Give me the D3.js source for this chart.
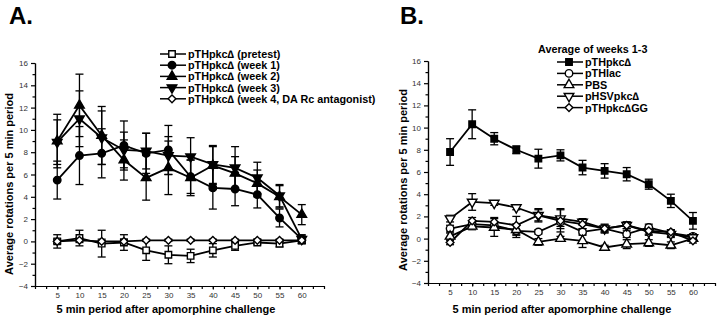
<!DOCTYPE html>
<html>
<head>
<meta charset="utf-8">
<script src="https://cdn.jsdelivr.net/npm/d3@7"></script>
<style>
body { margin: 0; background: #fff; }
svg { font-family: "Liberation Sans", Arial, Helvetica, sans-serif; }
.axis path, .axis line { stroke: #000; stroke-width: 1.2; }
.axis text { font-size: 8px; fill: #333; }
</style>
</head>
<body>
<div id="chart"></div>
<script>
// 5 min periods after apomorphine
var periods = [5, 10, 15, 20, 25, 30, 35, 40, 45, 50, 55, 60];
var yTickValues = [-4, -2, 0, 2, 4, 6, 8, 10, 12, 14, 16];

// panel A: pTHpkcΔ over weeks
var pretestMean = [0.0, 0.3, -0.2, -0.1, -0.8, -1.2, -1.3, -0.8, -0.4, -0.1, -0.2, 0.1];
var pretestErr  = [0.6, 0.7, 1.2, 0.7, 0.9, 0.8, 0.6, 0.6, 0.4, 0.2, 0.3, 0.3];
var week1Mean = [5.5, 7.7, 7.9, 8.6, 7.9, 8.2, 5.8, 4.8, 4.7, 4.2, 2.1, 0.2];
var week1Err  = [1.7, 2.6, 2.2, 2.2, 1.8, 2.2, 1.5, 1.9, 1.5, 1.2, 0.8, 0.3];
var week2Mean = [9.0, 12.2, 9.5, 7.3, 5.7, 6.6, 5.7, 6.8, 6.1, 5.2, 4.0, 2.4];
var week2Err  = [2.4, 2.8, 2.6, 1.8, 2.0, 2.4, 1.6, 1.7, 1.5, 1.2, 1.0, 0.9];
var week3Mean = [8.9, 11.0, 9.3, 8.2, 8.1, 7.7, 7.6, 6.9, 6.6, 5.7, 4.1, 0.2];
var week3Err  = [2.0, 2.5, 2.4, 1.6, 1.6, 1.7, 1.7, 1.7, 1.9, 1.4, 1.0, 0.4];
var week4Mean = [0.0, 0.1, 0.0, 0.0, 0.1, 0.1, 0.1, 0.1, 0.1, 0.1, 0.1, 0.1];
var week4Err  = [0.2, 0.2, 0.2, 0.2, 0.1, 0.1, 0.1, 0.1, 0.1, 0.1, 0.1, 0.1];

// panel B: average of weeks 1-3
var pkcMean = [7.8, 10.3, 9.0, 8.0, 7.2, 7.5, 6.4, 6.1, 5.8, 4.9, 3.4, 1.6];
var pkcErr  = [1.2, 1.3, 0.55, 0.35, 0.85, 0.5, 0.65, 0.65, 0.6, 0.45, 0.6, 0.75];
var lacMean = [0.9, 1.3, 1.2, 0.7, 0.6, 1.5, 0.6, 0.9, 0.4, 1.0, 0.5, 0.2];
var lacErr  = [0.3, 0.3, 0.3, 0.6, 0.2, 0.4, 0.3, 0.3, 0.3, 0.3, 0.3, 0.2];
var pbsMean = [0.2, 1.1, 1.0, 0.8, -0.3, 0.0, -0.2, -0.8, -0.5, -0.4, -0.6, 0.0];
var pbsErr  = [0.3, 0.3, 0.8, 0.5, 0.3, 0.2, 0.6, 0.2, 0.4, 0.3, 0.3, 0.2];
var hsvMean = [1.8, 3.3, 3.2, 2.8, 2.1, 1.8, 1.5, 0.9, 1.2, 0.6, 0.4, 0.1];
var hsvErr  = [0.3, 0.75, 0.2, 0.2, 0.6, 0.9, 0.3, 0.3, 0.3, 0.3, 0.3, 0.3];
var ggMean = [-0.35, 1.6, 1.5, 1.2, 2.1, 1.6, 1.3, 0.9, 1.2, 0.7, 0.6, -0.2];
var ggErr  = [0.2, 0.3, 0.4, 0.8, 0.5, 1.0, 0.4, 0.4, 0.3, 0.3, 0.2, 0.2];

var svg = d3.select("#chart").append("svg")
    .attr("width", 720)
    .attr("height", 320);

// marker shapes
var shapes = {
    square:   { type: d3.symbolSquare,   size: 42, rot: 0 },
    circle:   { type: d3.symbolCircle,   size: 44, rot: 0 },
    triUp:    { type: d3.symbolTriangle, size: 40, rot: 0 },
    triDown:  { type: d3.symbolTriangle, size: 40, rot: 180 },
    diamond:  { type: d3.symbolSquare,   size: 30, rot: 45 }
};

function marker(sel, shape, filled) {
    var s = shapes[shape];
    sel.attr("d", d3.symbol().type(s.type).size(s.size)())
        .attr("transform", function() {
            return d3.select(this).attr("transform") + " rotate(" + s.rot + ")";
        })
        .style("fill", filled ? "#000" : "#fff")
        .style("stroke", "#000")
        .style("stroke-width", 1.4);
}

function drawPanel(p) {
    var x = d3.scaleLinear().domain([0, 65]).range([p.left, p.right]);
    var y = d3.scaleLinear().domain([-4, 16]).range([p.bottom, p.top]);

    var g = svg.append("g");

    // y axis: labelled even ticks + minor odd ticks
    g.append("g")
        .attr("class", "axis")
        .attr("transform", "translate(" + p.left + ",0)")
        .call(d3.axisLeft(y).tickValues(yTickValues).tickSize(4).tickSizeOuter(0).tickPadding(3));
    g.append("g")
        .attr("class", "axis")
        .attr("transform", "translate(" + p.left + ",0)")
        .call(d3.axisLeft(y).tickValues(d3.range(-3, 16, 2)).tickSize(2.5).tickSizeOuter(0).tickFormat(""));

    // x axis
    g.append("g")
        .attr("class", "axis")
        .attr("transform", "translate(0," + p.bottom + ")")
        .call(d3.axisBottom(x).tickValues(periods).tickSize(3.5).tickSizeOuter(0).tickPadding(3));
    g.append("g")
        .attr("class", "axis")
        .attr("transform", "translate(0," + p.bottom + ")")
        .call(d3.axisBottom(x).tickValues(d3.range(0, 65.1, 2.5)).tickSize(3).tickSizeOuter(0).tickFormat(""));

    var line = d3.line()
        .x(function(d, i) { return x(periods[i]); })
        .y(function(d) { return y(d); });

    p.series.forEach(function(s) {
        var eb = g.append("g");
        s.mean.forEach(function(m, i) {
            var cx = x(periods[i]), hi = y(m + s.err[i]), lo = y(m - s.err[i]);
            eb.append("line").attr("x1", cx).attr("x2", cx).attr("y1", hi).attr("y2", lo);
            eb.append("line").attr("x1", cx - 4).attr("x2", cx + 4).attr("y1", hi).attr("y2", hi);
            eb.append("line").attr("x1", cx - 4).attr("x2", cx + 4).attr("y1", lo).attr("y2", lo);
        });
        eb.selectAll("line").style("stroke", "#000").style("stroke-width", 1.3);
    });

    p.series.forEach(function(s) {
        g.append("path")
            .datum(s.mean)
            .attr("d", line)
            .style("fill", "none")
            .style("stroke", "#000")
            .style("stroke-width", 1.8);
    });

    p.series.forEach(function(s) {
        g.selectAll(null)
            .data(s.mean)
            .enter().append("path")
            .attr("transform", function(d, i) { return "translate(" + x(periods[i]) + "," + y(d) + ")"; })
            .call(marker, s.shape, s.filled);
    });

    // legend
    p.series.forEach(function(s, i) {
        var ly = p.legY + i * p.legStep;
        g.append("line")
            .attr("x1", p.legX).attr("x2", p.legX + 26)
            .attr("y1", ly).attr("y2", ly)
            .style("stroke", "#000").style("stroke-width", 1.5);
        g.append("path")
            .attr("transform", "translate(" + (p.legX + 12) + "," + ly + ")")
            .call(marker, s.shape, s.filled);
        g.append("text")
            .attr("x", p.legX + 28)
            .attr("y", ly + 4)
            .style("font-size", "10.8px")
            .style("font-weight", "bold")
            .text(s.name);
    });

    g.append("text")
        .attr("x", p.titleX)
        .attr("y", 24)
        .style("font-size", "24px")
        .style("font-weight", "bold")
        .text(p.title);

    g.append("text")
        .attr("text-anchor", "middle")
        .attr("x", p.xLabelX)
        .attr("y", 313)
        .style("font-size", "11px")
        .style("font-weight", "bold")
        .text("5 min period after apomorphine challenge");

    g.append("text")
        .attr("text-anchor", "middle")
        .attr("transform", "translate(" + p.yLabelX + "," + p.yLabelY + ") rotate(-90)")
        .style("font-size", "11px")
        .style("font-weight", "bold")
        .text("Average rotations per 5 min period");
}

drawPanel({
    title: "A.", titleX: 9,
    left: 35, right: 324, top: 63, bottom: 286,
    xLabelX: 166, yLabelX: 13, yLabelY: 184,
    legX: 160, legY: 54, legStep: 11.2,
    series: [
        { name: "pTHpkc\u2206 (pretest)", mean: pretestMean, err: pretestErr, shape: "square", filled: false },
        { name: "pTHpkc\u2206 (week 1)", mean: week1Mean, err: week1Err, shape: "circle", filled: true },
        { name: "pTHpkc\u2206 (week 2)", mean: week2Mean, err: week2Err, shape: "triUp", filled: true },
        { name: "pTHpkc\u2206 (week 3)", mean: week3Mean, err: week3Err, shape: "triDown", filled: true },
        { name: "pTHpkc\u2206 (week 4, DA Rc antagonist)", mean: week4Mean, err: week4Err, shape: "diamond", filled: false }
    ]
});

drawPanel({
    title: "B.", titleX: 400,
    left: 428, right: 715, top: 61, bottom: 283,
    xLabelX: 562, yLabelX: 407, yLabelY: 180,
    legX: 557, legY: 62, legStep: 11.4,
    series: [
        { name: "pTHpkc\u2206", mean: pkcMean, err: pkcErr, shape: "square", filled: true },
        { name: "pTHlac", mean: lacMean, err: lacErr, shape: "circle", filled: false },
        { name: "PBS", mean: pbsMean, err: pbsErr, shape: "triUp", filled: false },
        { name: "pHSVpkc\u2206", mean: hsvMean, err: hsvErr, shape: "triDown", filled: false },
        { name: "pTHpkc\u2206GG", mean: ggMean, err: ggErr, shape: "diamond", filled: false }
    ]
});

svg.append("text")
    .attr("x", 538)
    .attr("y", 53)
    .style("font-size", "10.8px")
    .style("font-weight", "bold")
    .text("Average of weeks 1-3");
</script>
</body>
</html>
